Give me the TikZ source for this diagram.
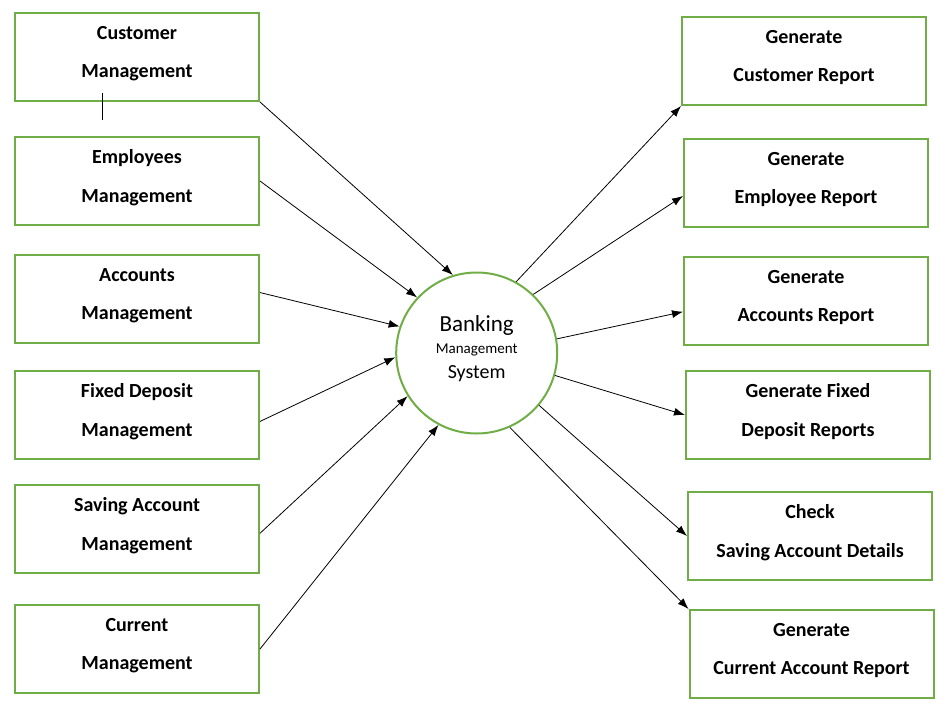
\documentclass[tikz,border=0pt]{standalone}
\usepackage{fontspec}
\setmainfont{Carlito}
\usetikzlibrary{arrows.meta}
\definecolor{boxgreen}{HTML}{70AD47}

\tikzset{
  basic/.style = {draw=boxgreen, line width=2pt, align=center},
  task/.style  = {basic, rectangle, minimum width=244pt, minimum height=88pt,
                  font=\bfseries\fontsize{20}{38.7}\selectfont,
                  execute at end node={\rule[-10pt]{0pt}{0pt}}},
  hub/.style   = {basic, circle, minimum size=161pt, font=\fontsize{20}{24}\selectfont,
                  execute at end node={\rule[-12pt]{0pt}{0pt}}}
}

\begin{document}
\begin{tikzpicture}[x=1pt, y=-1pt, node distance=118pt,
  >={Latex[length=11pt,width=8pt]}, line width=0.8pt]
\useasboundingbox (0,0) rectangle (950,712);

\node[hub] (bms) at (476.7,353)
  {{\fontsize{23}{24}\selectfont Banking}\\[-2pt]{\fontsize{15}{18}\selectfont Management}\\[1.6pt]System};

% left column, relatively positioned
\node[task] (L1) at (137,57) {Customer\\Management};
\node[task, below of=L1, yshift=-6pt] (L2) {Employees\\Management};
\node[task, below of=L2] (L3) {Accounts\\Management};
\node[task, below of=L3, yshift=2pt] (L4) {Fixed Deposit\\Management};
\node[task, below of=L4, yshift=4pt] (L5) {Saving Account\\Management};
\node[task, below of=L5, yshift=-2pt] (L6) {Current\\Management};

% right column
\node[task] (R1) at (804,61) {Generate\\Customer Report};
\node[task, below of=R1, xshift=2pt, yshift=-4pt] (R2) {Generate\\Employee Report};
\node[task, below of=R2] (R3) {Generate\\Accounts Report};
\node[task, below of=R3, xshift=2pt, yshift=4pt] (R4) {Generate Fixed\\Deposit Reports};
\node[task, below of=R4, xshift=2pt, yshift=-3pt] (R5) {Check\\Saving Account Details};
\node[task, below of=R5, xshift=1.5pt] (R6) {Generate\\Current Account Report};

\coordinate (tick) at (102.3,120);
\draw (tick) -- ++(0,-27);

\foreach \i/\from/\to in {1/south east/107, 2/east/137, 3/3/161, 4/-3/183, 5/-2/212, 6/east/242}
  \draw[->] (L\i.\from) -- (bms.\to);

\foreach \i/\from/\to in {1/61/south west, 2/46/186, 3/10/185, 4/-16/west, 5/-40/west, 6/-66/north west}
  \draw[->] (bms.\from) -- (R\i.\to);

\end{tikzpicture}
\end{document}
